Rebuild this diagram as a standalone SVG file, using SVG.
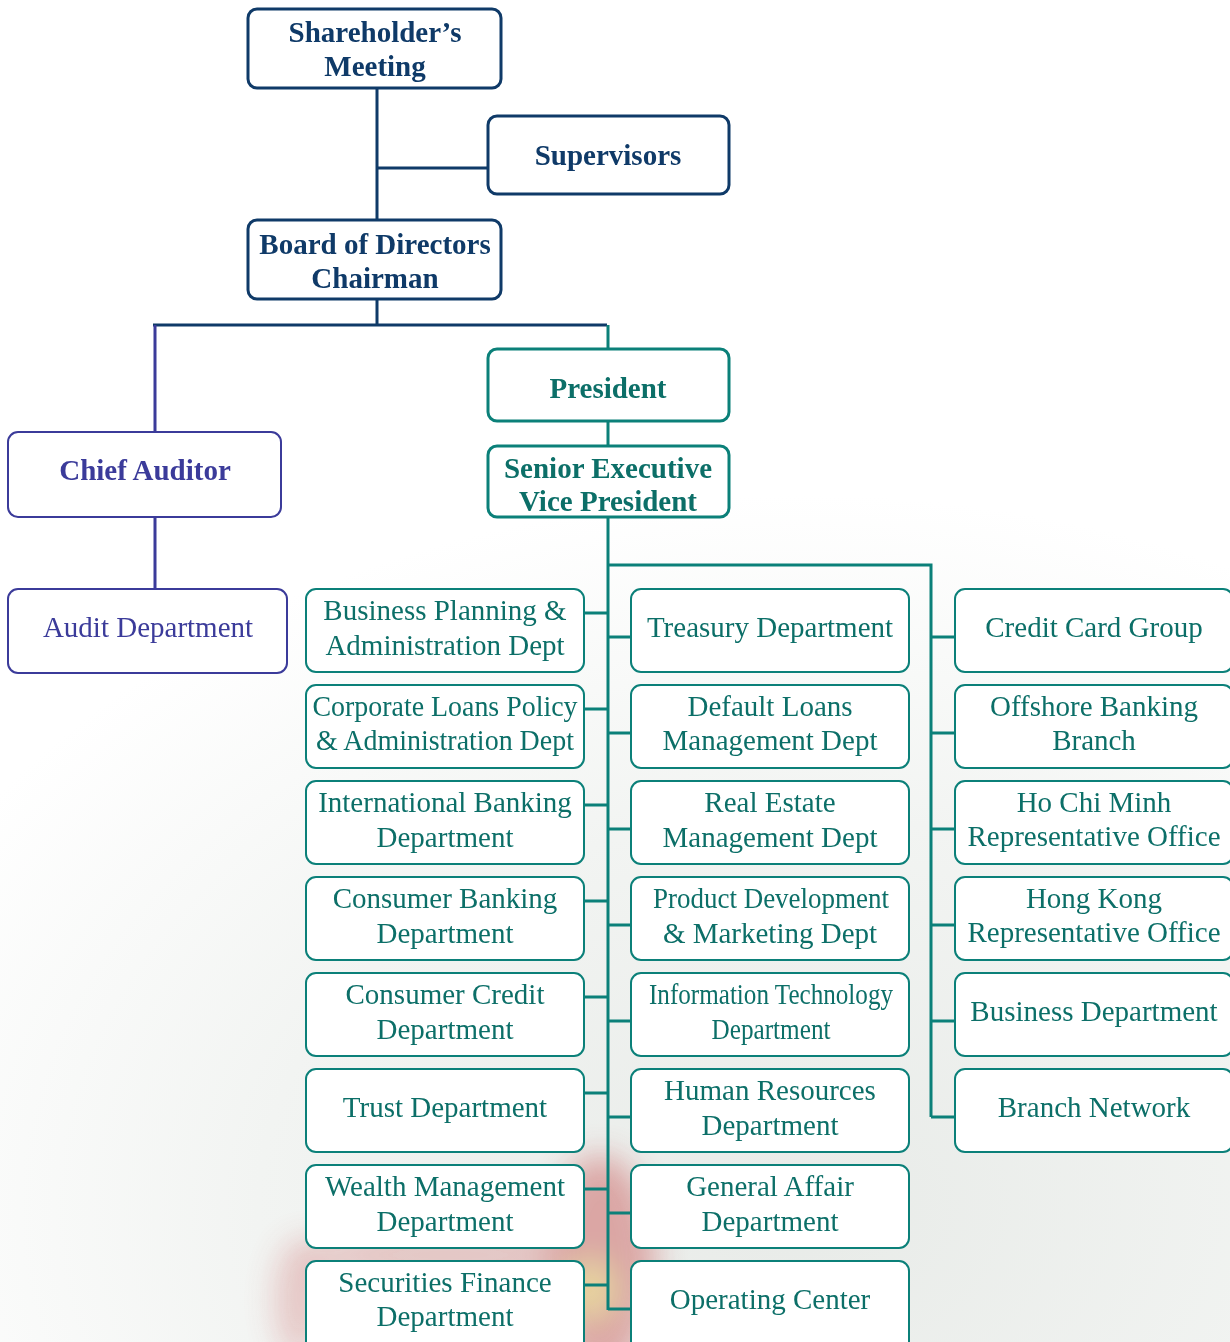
<svg xmlns="http://www.w3.org/2000/svg" width="1230" height="1342" viewBox="0 0 1230 1342">
<defs>
<radialGradient id="bgGrey" cx="0.65" cy="0.85" r="0.8">
<stop offset="0" stop-color="#e8ebe8"/>
<stop offset="0.55" stop-color="#f2f4f2"/>
<stop offset="1" stop-color="#ffffff"/>
</radialGradient>
<filter id="blur" x="-50%" y="-50%" width="200%" height="200%"><feGaussianBlur stdDeviation="16"/></filter>
</defs>
<style>
.navy{fill:#fff;stroke:#0f3a68;stroke-width:3}
.teal{fill:#fff;stroke:#0b8079;stroke-width:3}
.grid{fill:#fff;stroke:#0b8079;stroke-width:2}
.purp{fill:#fff;stroke:#3b3b9a;stroke-width:2}
text{font-family:"Liberation Serif","Times New Roman",serif;font-size:29px;text-anchor:middle}
.tn{fill:#0f3a68;font-weight:bold}
.tt{fill:#0c6f68;font-weight:bold}
.tp{fill:#3b3b9a}
.tpb{fill:#3b3b9a;font-weight:bold}
.tg{fill:#0c6f68}
.cn{stroke:#0f3a68;stroke-width:3;fill:none}
.ct{stroke:#0b8079;stroke-width:3;fill:none}
.cp{stroke:#3b3b9a;stroke-width:3;fill:none}
</style>
<g id="background">
<rect width="1230" height="1342" fill="#ffffff"/>
<rect x="0" y="450" width="1230" height="892" fill="url(#bgGrey)"/>
<g filter="url(#blur)" opacity="0.4">
<ellipse cx="600" cy="1265" rx="55" ry="110" fill="#c23a3a"/>
<ellipse cx="450" cy="1255" rx="150" ry="30" fill="#c23a3a" opacity="0.6"/>
<ellipse cx="300" cy="1300" rx="25" ry="60" fill="#c23a3a" opacity="0.6"/>
<ellipse cx="590" cy="1290" rx="20" ry="25" fill="#e8c020"/>
</g>
</g>
<g id="connectors">
<path class="cn" d="M377 88V220M376 168H488M377 299V325M153 325H607"/>
<path class="cp" d="M155 325V432M155 517V589"/>
<path class="ct" d="M608 325V349M608 421V446M608 517V1310M608 565H931V1117"/>
<path class="ct" d="M584 613H608M584 709H608M584 805H608M584 901H608M584 997H608M584 1093H608M584 1189H608M584 1285H608"/>
<path class="ct" d="M608 637H631M608 733H631M608 829H631M608 925H631M608 1021H631M608 1117H631M608 1213H631M608 1309H631"/>
<path class="ct" d="M931 637H955M931 733H955M931 829H955M931 925H955M931 1021H955M931 1117H955"/>
</g>
<g id="shareholders"><rect class="navy" x="248" y="9" width="253" height="79" rx="9"/><text class="tn" x="375" y="42">Shareholder’s</text><text class="tn" x="375" y="76">Meeting</text></g>
<g id="supervisors"><rect class="navy" x="488" y="116" width="241" height="78" rx="9"/><text class="tn" x="608" y="165">Supervisors</text></g>
<g id="board"><rect class="navy" x="248" y="220" width="253" height="79" rx="9"/><text class="tn" x="375" y="254">Board of Directors</text><text class="tn" x="375" y="288">Chairman</text></g>
<g id="president"><rect class="teal" x="488" y="349" width="241" height="72" rx="9"/><text class="tt" x="608" y="398">President</text></g>
<g id="sevp"><rect class="teal" x="488" y="446" width="241" height="71" rx="9"/><text class="tt" x="608" y="478">Senior Executive</text><text class="tt" x="608" y="511">Vice President</text></g>
<g id="chief-auditor"><rect class="purp" x="8" y="432" width="273" height="85" rx="10"/><text class="tpb" x="145" y="480">Chief Auditor</text></g>
<g id="audit-dept"><rect class="purp" x="8" y="589" width="279" height="84" rx="10"/><text class="tp" x="148" y="637">Audit Department</text></g>

<g id="c1r1"><rect class="grid" x="306" y="589" width="278" height="83" rx="10"/><text class="tg" x="445" y="620">Business Planning &amp;</text><text class="tg" x="445" y="655">Administration Dept</text></g>
<g id="c1r2"><rect class="grid" x="306" y="685" width="278" height="83" rx="10"/><text class="tg" x="445" y="716" textLength="265" lengthAdjust="spacingAndGlyphs">Corporate Loans Policy</text><text class="tg" x="445" y="750" textLength="258" lengthAdjust="spacingAndGlyphs">&amp; Administration Dept</text></g>
<g id="c1r3"><rect class="grid" x="306" y="781" width="278" height="83" rx="10"/><text class="tg" x="445" y="812">International Banking</text><text class="tg" x="445" y="847">Department</text></g>
<g id="c1r4"><rect class="grid" x="306" y="877" width="278" height="83" rx="10"/><text class="tg" x="445" y="908">Consumer Banking</text><text class="tg" x="445" y="943">Department</text></g>
<g id="c1r5"><rect class="grid" x="306" y="973" width="278" height="83" rx="10"/><text class="tg" x="445" y="1004">Consumer Credit</text><text class="tg" x="445" y="1039">Department</text></g>
<g id="c1r6"><rect class="grid" x="306" y="1069" width="278" height="83" rx="10"/><text class="tg" x="445" y="1117">Trust Department</text></g>
<g id="c1r7"><rect class="grid" x="306" y="1165" width="278" height="83" rx="10"/><text class="tg" x="445" y="1196">Wealth Management</text><text class="tg" x="445" y="1231">Department</text></g>
<g id="c1r8"><rect class="grid" x="306" y="1261" width="278" height="95" rx="10"/><text class="tg" x="445" y="1292">Securities Finance</text><text class="tg" x="445" y="1326">Department</text></g>

<g id="c2r1"><rect class="grid" x="631" y="589" width="278" height="83" rx="10"/><text class="tg" x="770" y="637">Treasury Department</text></g>
<g id="c2r2"><rect class="grid" x="631" y="685" width="278" height="83" rx="10"/><text class="tg" x="770" y="716">Default Loans</text><text class="tg" x="770" y="750">Management Dept</text></g>
<g id="c2r3"><rect class="grid" x="631" y="781" width="278" height="83" rx="10"/><text class="tg" x="770" y="812">Real Estate</text><text class="tg" x="770" y="847">Management Dept</text></g>
<g id="c2r4"><rect class="grid" x="631" y="877" width="278" height="83" rx="10"/><text class="tg" x="771" y="908" textLength="236" lengthAdjust="spacingAndGlyphs">Product Development</text><text class="tg" x="770" y="943">&amp; Marketing Dept</text></g>
<g id="c2r5"><rect class="grid" x="631" y="973" width="278" height="83" rx="10"/><text class="tg" x="771" y="1004" textLength="244" lengthAdjust="spacingAndGlyphs">Information Technology</text><text class="tg" x="771" y="1039" textLength="119" lengthAdjust="spacingAndGlyphs">Department</text></g>
<g id="c2r6"><rect class="grid" x="631" y="1069" width="278" height="83" rx="10"/><text class="tg" x="770" y="1100">Human Resources</text><text class="tg" x="770" y="1135">Department</text></g>
<g id="c2r7"><rect class="grid" x="631" y="1165" width="278" height="83" rx="10"/><text class="tg" x="770" y="1196">General Affair</text><text class="tg" x="770" y="1231">Department</text></g>
<g id="c2r8"><rect class="grid" x="631" y="1261" width="278" height="95" rx="10"/><text class="tg" x="770" y="1309">Operating Center</text></g>

<g id="c3r1"><rect class="grid" x="955" y="589" width="278" height="83" rx="10"/><text class="tg" x="1094" y="637">Credit Card Group</text></g>
<g id="c3r2"><rect class="grid" x="955" y="685" width="278" height="83" rx="10"/><text class="tg" x="1094" y="716">Offshore Banking</text><text class="tg" x="1094" y="750">Branch</text></g>
<g id="c3r3"><rect class="grid" x="955" y="781" width="278" height="83" rx="10"/><text class="tg" x="1094" y="812">Ho Chi Minh</text><text class="tg" x="1094" y="846">Representative Office</text></g>
<g id="c3r4"><rect class="grid" x="955" y="877" width="278" height="83" rx="10"/><text class="tg" x="1094" y="908">Hong Kong</text><text class="tg" x="1094" y="942">Representative Office</text></g>
<g id="c3r5"><rect class="grid" x="955" y="973" width="278" height="83" rx="10"/><text class="tg" x="1094" y="1021">Business Department</text></g>
<g id="c3r6"><rect class="grid" x="955" y="1069" width="278" height="83" rx="10"/><text class="tg" x="1094" y="1117">Branch Network</text></g>
</svg>
